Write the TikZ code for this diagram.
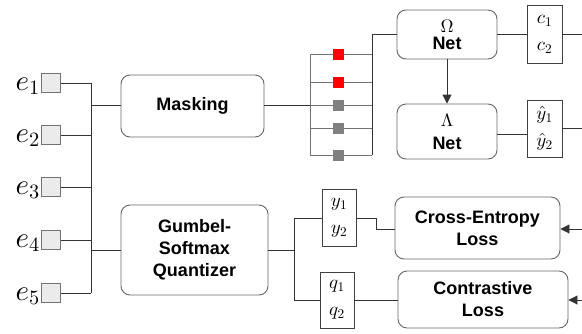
\documentclass[tikz,border=0pt]{standalone}
\usepackage{fontspec}
\setmainfont{Liberation Sans}
\DeclareFontShape{OML}{cmm}{m}{it}{<-9>cmmi7<9->cmmi10}{}
\DeclareFontShape{OT1}{cmr}{m}{n}{<-9>cmr7<9->cmr10}{}
\DeclareFontShape{OMS}{cmsy}{m}{n}{<-9>cmsy7<9->cmsy10}{}
\DeclareFontShape{OMX}{cmex}{m}{n}{<->cmex10}{}
\usetikzlibrary{arrows.meta}
\begin{document}
\begin{tikzpicture}[x=1pt,y=-1pt,
  blk/.style={draw=black!60, rounded corners=9pt, line width=0.9pt, align=center,
    font=\fontsize{18}{22}\selectfont\bfseries, inner sep=0pt},
  vbox/.style={draw=black!75, line width=0.8pt, align=center, inner sep=0pt,
    font=\fontsize{19}{27}\selectfont},
  esq/.style={draw=black!55, fill=black!8, line width=0.8pt, minimum size=19pt, inner sep=0pt},
  elab/.style={anchor=east, inner sep=0pt, font=\fontsize{29}{29}\selectfont},
  msq/.style={minimum size=11pt, inner sep=0pt},
  ln/.style={draw=black!80, line width=0.9pt},
  mln/.style={draw=black!55, line width=0.9pt},
  arr/.style={ln, -{Triangle[length=9pt,width=9pt]}}]
\useasboundingbox (0,0) rectangle (582,333);

% inputs
\foreach \i/\y in {1/83,2/135,3/187,4/240,5/293}{
  \node[esq] (s\i) at (51,\y) {};
  \node[elab] (l\i) at (40,\y+3) {$e_\i$};
  \coordinate (b\i) at (91,\y);
  \draw[ln] (s\i.east) -- (b\i);
}
\draw[ln] (b1) -- (b5);

% blocks
\node[blk, minimum width=143pt, minimum height=62pt] (mask) at (192.5,106) {Masking};
\node[blk, minimum width=147pt, minimum height=90pt] (gum) at (194.5,250) {Gumbel-\\Softmax\\Quantizer};
\coordinate (bm) at (91,105);
\coordinate (bg) at (91,250);
\draw[ln] (bm) -- (mask.west |- bm);
\draw[ln] (bg) -- (gum.west |- bg);

% mask stack
\coordinate (ml) at (310,105);
\draw[ln] (mask.east |- ml) -- (ml);
\foreach \i/\y/\c in {1/54/red,2/82/red,3/105/black!50,4/128/black!50,5/155/black!50}{
  \coordinate (L\i) at (310,\y);
  \coordinate (R\i) at (372,\y);
  \draw[mln] (L\i) -- (R\i);
  \node[msq, fill=\c] (m\i) at (338,\y) {};
}
\draw[mln] (L1) -- (L5);
\coordinate (Rt) at (372,34);
\draw[ln] (R5) -- (Rt);

% upper nets
\node[blk, minimum width=100pt, minimum height=49pt] (om) at (447,34.5) {$\Omega$\\[-5pt]Net};
\node[blk, minimum width=100pt, minimum height=55pt] (la) at (447,131.5) {$\Lambda$\\[1pt]Net};
\draw[ln] (Rt) -- (om.west |- Rt);
\draw[arr] (om.south) -- (la.north);

\node[vbox, minimum width=35pt, minimum height=58pt] (cb) at (544.5,34) {$c_1$\\$c_2$};
\node[vbox, minimum width=35pt, minimum height=57pt] (yh) at (544.5,128.5) {$\hat y_1$\\$\hat y_2$};
\draw[ln] (om.east |- Rt) -- (cb.west |- Rt);
\coordinate (co) at (582,34);
\draw[ln] (cb.east |- co) -- (co);
\coordinate (lay) at (497,134);
\draw[ln] (lay) -- (yh.west |- lay);
\coordinate (yo) at (582,128);
\draw[ln] (yh.east |- yo) -- (yo);

% lower part
\node[vbox, minimum width=34pt, minimum height=57pt] (yb) at (339,217.5) {$y_1$\\$y_2$};
\node[vbox, minimum width=34pt, minimum height=56pt] (qb) at (337,300) {$q_1$\\$q_2$};
\node[blk, minimum width=165pt, minimum height=62pt] (ce) at (477.5,228) {Cross-Entropy\\Loss};
\node[blk, minimum width=170pt, minimum height=57pt] (ct) at (483,299.5) {Contrastive\\Loss};

\coordinate (g0) at (294,250);
\coordinate (g1) at (294,218);
\coordinate (g2) at (294,300);
\draw[ln] (gum.east |- g0) -- (g0);
\draw[ln] (g1) -- (g2);
\draw[ln] (g1) -- (yb.west |- g1);
\draw[ln] (g2) -- (qb.west |- g2);
\coordinate (y0) at (376,218);
\coordinate (y1) at (376,229);
\draw[ln] (yb.east |- y0) -- (y0) -- (y1) -- (ce.west |- y1);
\draw[ln] (qb.east |- g2) -- (ct.west |- g2);

\coordinate (ceIn) at (582,229);
\coordinate (ctIn) at (582,300);
\draw[arr] (ceIn) -- (ce.east |- ceIn);
\draw[arr] (ctIn) -- (ct.east |- ctIn);
\end{tikzpicture}
\end{document}
